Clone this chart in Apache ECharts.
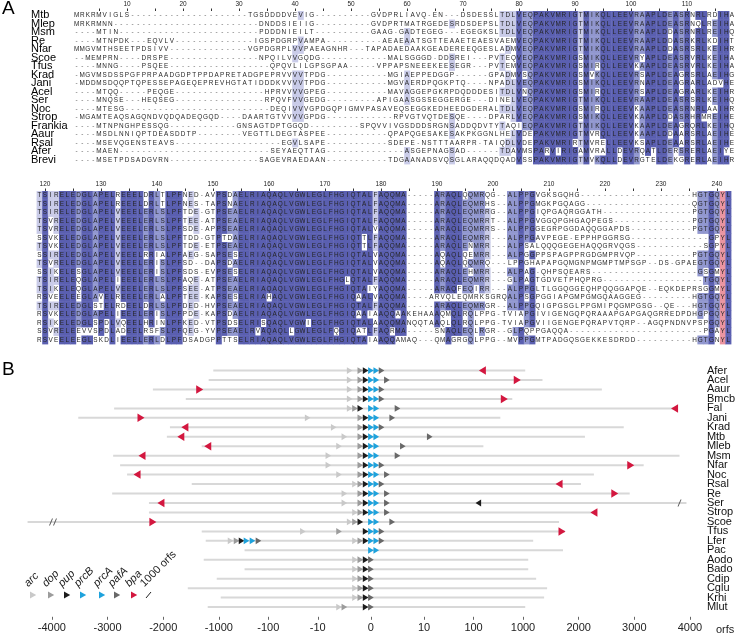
<!DOCTYPE html>
<html><head><meta charset="utf-8">
<script src="https://cdn.jsdelivr.net/npm/echarts@6/dist/echarts.min.js"></script>
<style>html,body{margin:0;padding:0;background:#fff}#c{width:738px;height:636px}</style>
</head><body><div id="c"></div>
<script>
// ================= PANEL A : alignment =================
const alnNames = ['Mtb','Mlep','Msm','Re','Nfar','Scoe','Tfus','Krad','Jani','Acel','Ser','Noc','Strop','Frankia','Aaur','Rsal','Afer','Brevi'];
// segments: strings = residues/gaps as read, numbers = run of gap columns
const block1 = [
 ["MRKRMVIGLS",21,"TGSDDDDVEVIG",10,"GVDPRLIAVQ-EN---DSDESS","LTDLVEQPAKVMRIGTMIKQLLEEVRAAPLDEASRNRLRDIHA"],
 ["MRKRMNN",26,"DNDDSIEIIG",10,"GVDPRTMATRGEDESRDSDEPS","LTDLVEQPAKVMRIGTMIKQLLEEVRAAPLDEASRNQLREIHA"],
 [4,"MTIN",25,"PDDDNIEILT",10,"GAAG-GADTEGEG---EGEGKS","LTDLVEQPAKVMRIGTMIKQLLEEVRAAPLDDASRNRLREIHQ"],
 [4,"MTNPDK---EQVLV",14,"IGSPDGRPVAMPA",10,"AEAEAATSGTTEAAETEAES","VAEMVEQPAKVMRIGTMIKQLLEEVRAAPLDDASRKRLKDIHT"],
 ["MMGVMTHSEETPDSIVV",14,"VGPDGRPLVVPAEAGNHR",3,"TAPADAEDAAKGEADEREEQGES","LADMVEQPAKVMRIGTMIKQLLEEVRAAPLDDASRSRLKEIHR"],
 [2,"MEMPRN",4,"DRSPE",16,"NPQILVVGQDG",12,"MALSGGGD-DDSREI---P","VTEQVEQPAKVMRIGSMIKQLLEEVRYAPLDEASRVRLKEIHA"],
 [4,"MNNG",4,"PSQEE",18,"QPQVLILGPSGPAA",5,"VPPAPSNEEEKEESEGR---P","VTEMVEQPAKVMRIGSMIRQLLEEVKAAPLDEASRVRLKEIHA"],
 ["-MGVMSDSSPGFPRPAADGDPTPPDAPRETAD","GPEPRVVVVTPDG",11,"MGIAEPPEDGGP------G","PADMVSQPAKVMRIGSMVKQLLEEVRSAPLDEAGRSRLAEIHG"],
 ["-MDDMSDQQPTQPESSEPAGEQEPREVHGTAT","IDDDKVVVVTPDG",11,"MGVAERDPQGKPTQ----N","PADLVEQPAKVMRIGSMIKQLLEEVRNAPLDEAGRARLADVHE"],
 [4,"MTQQ",5,"PEQGE",16,"HPRVVVVGPEG",11,"MAVAGGEPGKRPDQDDDES","ITDLVNQPAKVMRIGSMIRQLLEEVRSAPLDEAGRARLKEIHR"],
 [4,"MNQSE",3,"HEQSEG",16,"RPQVFVVGEDG",9,"APIGAASGSSEGGERGE---D","INELVEQPAKVMRIGTMIKQLLEEVRAAPLDEASRSRLKEIHQ"],
 [4,"MTESG",26,"DEQIVVVGPDGQPIGMVPASAVEQSEGGKEDHEEDGDERA","LTDLVEQPAKVMRIGSMIRQLLEEVKAAPLDEASRNRLAAIHR"],
 ["-MGAMTEAQSAGQNDVQDQADEQGQD",4,"DAARTGTVVVVGPDG",12,"RPVGTVQTDESQE----D","PARLVEQPAKVMRIGSMIKQLLEEVKAAPLDDASRHRMREIHE"],
 [4,"MTNPNGHPESSQG",12,"GNSAGTDPTGGQD",9,"SPQVVIVGSDDDSRGNSADDQDVT","YTAQIEQPAKVMRIGTMIKQLLEEVKAAPLDEAGRQRLKEIHQ"],
 [4,"MSDLNNIQPTDEASDDTP",8,"VEGTTLDEGTASPEE",11,"QPAPQGESAKESAKPKGGN","LHELVDEPAKVMRIGTMVRQLLEEVKAAPLDDAARSRLAEIHE"],
 [4,"MSEVQGENSTEAVS",19,"EGVLSAPE",11,"SDEPE-NSTTTAARPR-TA","IQDLVDEPAKVMRIRTMVRELLEEVKSAPLDEAARSRLAEIHE"],
 [4,"MAEN",27,"SEYAEQTTAG",14,"ASGEPNAGSAD",5,"-TDAVMSPARVIRIGAMVRALLDEVRQATLDERSRERLAEIYE"],
 [4,"MSETPDSADGVRN",16,"SAGEVRAEDAAN",11,"TDGAANADSVQSGLARAQQ","DQADVSSPAKVMRIGTMVKQLLDEVRGTELDEKGRERLAEIHR"]
];
const block2 = [
 ["TSIRELE","DGLAPELREEELDRLTLPFNED-AVPSDAELRIAQAQLVGW","LEGLFHGIQTALFAQQMA-----ARAQLQQMRQG--ALP","PGVGKSGQHG",20,"HGTGQYL"],
 ["TSIRELE","DGLAPELREEELDRLTLPFNES-TAPSNAELRIAQAQLVGW","LEGLFHGIQTALFAQQMA-----ARAQLEQMRHS--ALP","PGMGKPGQAGG",19,"QGTGQYL"],
 ["TSIRELE","DGLAPELVEEELERLSLPFTDE-GTPSEAELRIAQAQLVGW","LEGLFHGIQTALFAQQMA-----ARAQLEQMRRG--ALP","PGIQPGAQRGGATH",16,"PGTGQYL"],
 ["TSVRELE","DGLAPELVEEELERLSLPFTEE-ATPSEAELRIAQAQLVGW","LEGLFHGIQTALFAQQMA-----ARAQLEQMRRT--ALP","PGVGGQPGHGAQPEGS",14,"PGTGQYL"],
 ["TSVRELE","DGLAPELVEEELERLSLPFSDE-APPSEAELRIAQAQLVGW","LEGLFHGIQTALVAQQMA-----ARAQLEQMRRS--ALP","PGGEGRPGGDAQQGGAPDS",11,"PGTGQYL"],
 ["SSVKELE","DGLAPELVEEELERLSLPFTDD-GTPTDAELRIAQAQLVGW","LEGLFHGIQTTLFAQQMA-----ARAQLEQMRR---ALP","PGAVPEGE-EPPHPGGRSG",14,"GPYL"],
 ["TSVKELE","DGLAPELVEEELERLSLPFTDE-ETPSEAELRIAQAQLVGW","LEGLFHGIQTTLFAQQMA-----ARAQLENMRR---ALP","SALQQQGEGEHAQQGRVQGS",12,"SGPYL"],
 ["SSIRELE","DGLAPELVEEELRRIALPFAEG-SAPSESELRIAQAQLVGW","LEGLFHGIQTALVAQQMA-----AQAQLQEMRR---ALP","GGPPSPAGPPRGDGMPRVQP",10,"PGTGQYL"],
 ["TSVRELE","DGLAPELVEEELERISLPFSD--DAPSDAELRIAQAQLVGW","LEGLFHGIQTALVAQQMA-----AQAQLQQMRQ---LPP","GHAPAPGQMGNPMGMPTMPSGP--DS-GPAEGTGQYL"],
 ["SSIKELE","SGLAPELVEEELERISLPFSDS-EVPSESELRIAQAQLVGW","LEGLFHGIQTALVAQQMA-----ARAQLEHMRR---ALP","AG-QHPSQEARS",19,"GSGMYL"],
 ["TSIRELE","QGLAPELIEEELERLSLPFAQE-ATPSEAELRIAQAQLVGW","LEGLFHGLQTALFAQQMA-----ARAQLEQMRR---GLP","AGTGDVETPHQPRG",18,"TGQYL"],
 ["TSIKELE","QGLAPELVEEELERLSLPFSEE-ATPSEAELRIAQAQLVGW","LEGLFHGIQTAIYAQQMA-----ARAQFEQIRR---ALP","PGLTLGGQGGEQHPQQGGAPQE--EQKDEPRSGGMYL"],
 ["RSVEELE","EGLAVELREEELERLALPFTEE-KAPSESELRIAHAQLVGW","LEGLFHGIQAALVAQQMA----ARVQLEQMRKSGRQALP","SGPGGIAPGMPGMGQAAGGEG",9,"HGTGQYL"],
 ["TSIRELE","DGLSTELRDEELDRLSLPFDED-HVPSEAELRIAQAQLVGW","LEGLFHGIQTALFAQQMA-----ARAQLEQMRGR--ALP","PGQIGPGSGLPPGMIPQGMPGSG--QE---HGTGQYL"],
 ["RSVKELE","DGLAPELIEEELERISLPFPDE-KAPSDAELRIAQAQLVGW","LEGLFHGIQAAIAAQQAAKEHAAAQMQLRQLPPG-TVIA","PGIVIGENGQPQRAAAPGAPGAQGRREDPDHGPGQYL"],
 ["RSIKELE","DGLSPDLVQEELHRINLPFKED-VTPSDSELRISQAQLVGW","IEGLFHGIQTALAAQQMANQQTAAQLQLRQLPPG-TVIA","PGVIIGENGEPQRAPVTQRP--AGQPNDNVPSPGQYL"],
 ["SSVRELE","EVVSPDLADEELRSFSLPFQEG-YVPSEAELRVAQAQLLGW","LEGLFQGIQATLFAQRMA-----SNAQLEQLRGR--GLP","QPPGAQQA",24,"PGAYL"],
 ["RSVEELE","EGLSKDLIEEELERLDLPFDSADGPPTTSELRIAQAQLVGW","LEGLFHGIQTAIAAQQAMAQ---QMAGRGQLPPG--MVP","PGMTPADGQSGEKKESDRDD",10,"HGTGNYL"]
];
const ruler1Labels = [10,20,30,40,50,60,70,80,90,100,110];
const ruler2Labels = [120,130,140,150,160,170,180,190,200,210,220,230,240];
const highlightColumn = 241;   // pink column

// ================= PANEL B : gene neighbourhoods =================
const rowsB = ['Afer','Acel','Aaur','Bmcb','Fal','Jani','Krad','Mtb','Mleb','Msm','Nfar','Noc','Rsal','Re','Ser','Strop','Scoe','Tfus','Lfer','Pac','Aodo','Bado','Cdip','Cglu','Krhi','Mlut'];
const lineStart = [-1100,-1183,-2185,-1594,-2882,-3526,-1879,-1934,-1308,-2899,-2774,-2649,-1487,-2917,-2256,-2256,-4437,-1308,-1236,-302,-1272,-302,-1038,-1558,-917,-1200];
const lineEnd   = [1040,1350,2417,607,3758,348,2810,2113,158,3812,3168,2274,2041,2917,3937,2292,1648,1755,1183,1719,1094,1094,1236,1433,1379,1040];
const arcPos  = [-4,-4,-4,-4,-4,-16,-7,-5,-6,-8,-8,-6,-3,-5,-5,-3,-4,-20,-3,null,-3,-3,-3,-3,-3,-6];
const dopPos  = [-2,-2,-2,-2,-3,-2,-2,-2,-2,-2,-2,-2,-2,-2,-2,-2,-3,-6,-2,null,-2,-2,-2,-2,-2,-5];
const pupPos  = [-1,-1,-1,-1,-2,-1,-1,-1,-1,-1,-1,-1,-1,-1,-1,-1,-2,-1,-1,null,-1,-1,-1,-1,-1,-1];
const prcBPos = [0,0,0,0,0,0,0,0,0,0,0,0,0,0,0,0,0,0,0,0,null,null,null,null,null,null];
const prcAPos = [1,1,1,1,1,1,1,1,1,1,1,1,1,1,1,1,1,1,1,1,null,null,null,null,null,null];
const pafAPos = [2,3,2,2,5,4,2,13,6,5,2,3,2,3,3,3,4,2,2,null,0,0,0,0,0,0];
const bpaPos  = [151,765,-1344,419,3723,-2399,-1611,-1683,-1200,-2381,2936,-2470,1648,2649,-2041,2274,-2185,1701,null,null,null,null,null,null,null,null];
const bpaDir  = ['L','R','R','R','L','R','L','L','L','L','R','L','L','R','L','L','R','R',null,null,null,null,null,null,null,null];
// additional genes: [row, gene, orf, direction]
const extraGenes = [
 ['Lfer','arc',-580,'R'],['Lfer','dop',-439,'R'],['Lfer','pup',-348,'R'],
 ['Lfer','prcB',-276,'R'],['Lfer','prcA',-209,'R'],['Lfer','pafA',-158,'R'],
 ['Ser','pup',125,'L']
];
const breaks = [['Scoe',-3980,2],['Ser',3812,1]];   // [row, orf, number of slashes]
const tickOrfs = [-4000,-3000,-2000,-1000,-100,-10,0,10,100,1000,2000,3000,4000];
const legendNames = ['arc','dop','pup','prcB','prcA','pafA','bpa'];
const geneColors = {arc:'#c9c9c9',dop:'#9c9c9c',pup:'#1c1c1c',prcB:'#1ea2dc',prcA:'#1ea2dc',pafA:'#686868',bpa:'#d3173f'};

// ---- piecewise (linear / log / linear) orf scale used by the figure ----
function orfScale(v){
  const a = Math.abs(v), s = v < 0 ? -1 : 1; let t;
  if (a <= 10) t = a/10;
  else if (a <= 1000) t = 1 + 0.93*Math.log10(a/10);
  else t = 2.86 + 1.0467*(a-1000)/1000;
  return s*t;
}

// ---- build alignment cells ----
const expand = segs => segs.map(s => typeof s === 'number' ? '-'.repeat(s) : s).join('');
const seq1 = block1.map(expand), seq2 = block2.map(expand);
const full = seq1.map((s,i)=> s + seq2[i]);
const L1 = seq1[0].length;
const shadeFromColumn = 30;
function identityClasses(seqs){
  const n = seqs.length, L = Math.max(...seqs.map(s=>s.length));
  const cls = seqs.map(()=> new Array(L).fill(0));
  for (let c=0;c<L;c++){
    const cnt = {};
    seqs.forEach(s=>{ const ch=s[c]; if (ch && ch!=='-') cnt[ch]=(cnt[ch]||0)+1; });
    let best=null, bc=0; for (const k in cnt) if (cnt[k]>bc){bc=cnt[k];best=k;}
    const pct = bc/n; const lvl = pct>0.8?3:pct>0.6?2:pct>0.4?1:0;
    if (c+1 < shadeFromColumn) continue;
    seqs.forEach((s,r)=>{ if (s[c]===best) cls[r][c]=lvl; });
    if (c+1 === highlightColumn) seqs.forEach((s,r)=>{ if (s[c] && s[c]!=='-') cls[r][c]=4; });
  }
  return cls;
}
const cls = identityClasses(full);
const data1=[], chars1=[], data2=[], chars2=[];
full.forEach((s,r)=>{
  for (let c=0;c<s.length;c++){
    const item=[c+1, r, cls[r][c]];
    if (c < L1){ data1.push(item); chars1.push(s[c]); }
    else { data2.push(item); chars2.push(s[c]); }
  }
});
const shadeColors = {1:'#c9cbe8',2:'#9197cf',3:'#5a5fb0',4:'#ea94a0'};
const FONT = '"Liberation Sans", Arial, Helvetica, sans-serif';
function alnRender(chars){
  return function(params, api){
    const c = api.value(0), r = api.value(1), k = api.value(2);
    const p0 = api.coord([c-0.5, r]), p1 = api.coord([c+0.5, r]);
    const h = api.size([0,1])[1];
    const ch = chars[params.dataIndex];
    const children = [];
    if (k>0) children.push({type:'rect', shape:{x:p0[0], y:p0[1]-h/2, width:p1[0]-p0[0]+0.4, height:h+0.4}, style:{fill:shadeColors[k]}});
    children.push({type:'text', x:(p0[0]+p1[0])/2, y:p0[1]+0.3, style:{text:ch, align:'center', verticalAlign:'middle', font:'6.4px '+FONT, fill: ch==='-'?'#6a6a6a':'#262626'}});
    return {type:'group', children};
  };
}

// ---- panel B series data ----
const rowIdx = name => rowsB.indexOf(name);
const genePoints = {arc:[],dop:[],pup:[],prcB:[],prcA:[],pafA:[],bpa:[]};
const posTables = {arc:arcPos,dop:dopPos,pup:pupPos,prcB:prcBPos,prcA:prcAPos,pafA:pafAPos};
Object.keys(posTables).forEach(g=>{
  posTables[g].forEach((v,i)=>{ if (v!==null) genePoints[g].push({orf:v,row:i,dir:'R'}); });
});
bpaPos.forEach((v,i)=>{ if (v!==null) genePoints.bpa.push({orf:v,row:i,dir:bpaDir[i]}); });
extraGenes.forEach(([n,g,o,d])=> genePoints[g].push({orf:o,row:rowIdx(n),dir:d}));

function triSeries(g){
  const big = g==='bpa';
  return {type:'scatter', name:g, xAxisIndex:2, yAxisIndex:2, symbol:'triangle',
    symbolSize: big ? [8.5,7] : [6.8,5.6], silent:true, z:5,
    itemStyle:{color:geneColors[g], opacity:1},
    data: genePoints[g].map(p=>({value:[orfScale(p.orf), p.row], symbolRotate: p.dir==='L'?90:-90}))};
}
const tickT = tickOrfs.map(orfScale);
const tickLabel = v => { let bi=0,bd=1e9; tickT.forEach((t,i)=>{const d=Math.abs(t-v); if(d<bd){bd=d;bi=i;}}); return String(tickOrfs[bi]); };

const range = (a,b,s)=>{const r=[];for(let v=a;v<=b;v+=s)r.push(v);return r;};
const colW = 5.6, rowH = 8.5;

const legendX = [33,51,67,83,102,117,134];
const legendY = 595;
const graphics = [
  {type:'text', x:2, y:-1, style:{text:'A', font:'19px '+FONT, fill:'#000', verticalAlign:'top'}},
  {type:'text', x:2, y:360, style:{text:'B', font:'19px '+FONT, fill:'#000', verticalAlign:'top'}}
];
legendNames.forEach((n,i)=>{
  const cx = legendX[i], cy = legendY;
  graphics.push({type:'polygon', shape:{points:[[cx-3,cy-3.5],[cx+3.2,cy],[cx-3,cy+3.5]]}, style:{fill:geneColors[n]}});
  graphics.push({type:'text', x:cx-3, y:cy-6, rotation:Math.PI/4, style:{text:n, font:'italic 11px '+FONT, fill:'#222', align:'left', verticalAlign:'bottom'}});
});
graphics.push({type:'line', shape:{x1:146,y1:598,x2:151,y2:592}, style:{stroke:'#222', lineWidth:1}});
graphics.push({type:'text', x:146, y:legendY-6, rotation:Math.PI/4, style:{text:'1000 orfs', font:'11px '+FONT, fill:'#222', align:'left', verticalAlign:'bottom'}});

const option = {
  animation:false,
  backgroundColor:'#fff',
  grid:[
    {left:73.8, top:11, width:118*colW, height:18*rowH},
    {left:36.6, top:191, width:124*colW, height:18*rowH},
    {left:25.3, top:365.8, width:679.7, height:246}
  ],
  xAxis:[
    {gridIndex:0, type:'value', position:'top', min:0.5, max:118.5, axisLine:{show:false}, splitLine:{show:false},
     axisTick:{show:true, customValues:range(5,115,5), length:2.5, lineStyle:{color:'#333'}},
     axisLabel:{customValues:ruler1Labels, fontSize:6.5, color:'#222', margin:3.5, fontFamily:FONT}},
    {gridIndex:1, type:'value', position:'top', min:118.5, max:242.5, axisLine:{show:false}, splitLine:{show:false},
     axisTick:{show:true, customValues:range(120,240,5), length:2.5, lineStyle:{color:'#333'}},
     axisLabel:{customValues:ruler2Labels, fontSize:6.5, color:'#222', margin:3.5, fontFamily:FONT}},
    {gridIndex:2, type:'value', min:-6.5, max:6.224, offset:5, axisLine:{show:false}, splitLine:{show:false},
     axisTick:{show:true, customValues:tickT, length:3, lineStyle:{color:'#666'}},
     axisLabel:{customValues:tickT, formatter:tickLabel, fontSize:11, color:'#222', margin:6, fontFamily:FONT},
     name:'orfs', nameLocation:'end', nameGap:14,
     nameTextStyle:{fontSize:11, color:'#222', fontFamily:FONT, verticalAlign:'top', padding:[8,0,0,0]}}
  ],
  yAxis:[
    {gridIndex:0, type:'category', data:alnNames, inverse:true, axisLine:{show:false}, axisTick:{show:false}, splitLine:{show:false},
     axisLabel:{fontSize:11, color:'#000', align:'left', margin:42.8, fontFamily:FONT, interval:0}},
    {gridIndex:1, type:'category', data:alnNames, inverse:true, show:false},
    {gridIndex:2, type:'category', data:rowsB, inverse:true, position:'right', axisLine:{show:false}, axisTick:{show:false}, splitLine:{show:false},
     axisLabel:{fontSize:11, color:'#111', align:'left', margin:5, fontFamily:FONT, interval:0}}
  ],
  graphic: graphics,
  series:[
    {type:'custom', xAxisIndex:0, yAxisIndex:0, renderItem:alnRender(chars1), data:data1, encode:{x:0,y:1}, silent:true, progressive:0},
    {type:'custom', xAxisIndex:1, yAxisIndex:1, renderItem:alnRender(chars2), data:data2, encode:{x:0,y:1}, silent:true, progressive:0},
    {type:'custom', xAxisIndex:2, yAxisIndex:2, silent:true, z:2, progressive:0,
     encode:{x:[0,1], y:2},
     data: rowsB.map((n,i)=>[orfScale(lineStart[i]), orfScale(lineEnd[i]), i]),
     renderItem:(params, api)=>{
       const a = api.coord([api.value(0), api.value(2)]), b = api.coord([api.value(1), api.value(2)]);
       return {type:'line', shape:{x1:a[0],y1:a[1],x2:b[0],y2:b[1]}, style:{stroke:'#d8d8d8', lineWidth:2}};
     }},
    {type:'scatter', xAxisIndex:2, yAxisIndex:2, silent:true, z:4,
     itemStyle:{color:'#333'},
     data: breaks.map(([n,o,k])=>({value:[orfScale(o), rowIdx(n)],
       symbol: k===2 ? 'path://M3,0L4,0L1,10L0,10Z M7,0L8,0L5,10L4,10Z' : 'path://M3,0L4,0L1,10L0,10Z',
       symbolSize: k===2 ? [8,7] : [4,7]}))},
    ...['arc','dop','pup','prcB','prcA','pafA','bpa'].map(triSeries)
  ]
};
const chart = echarts.init(document.getElementById('c'), null, {renderer:'canvas', width:738, height:636});
chart.setOption(option);
</script>
</body></html>
